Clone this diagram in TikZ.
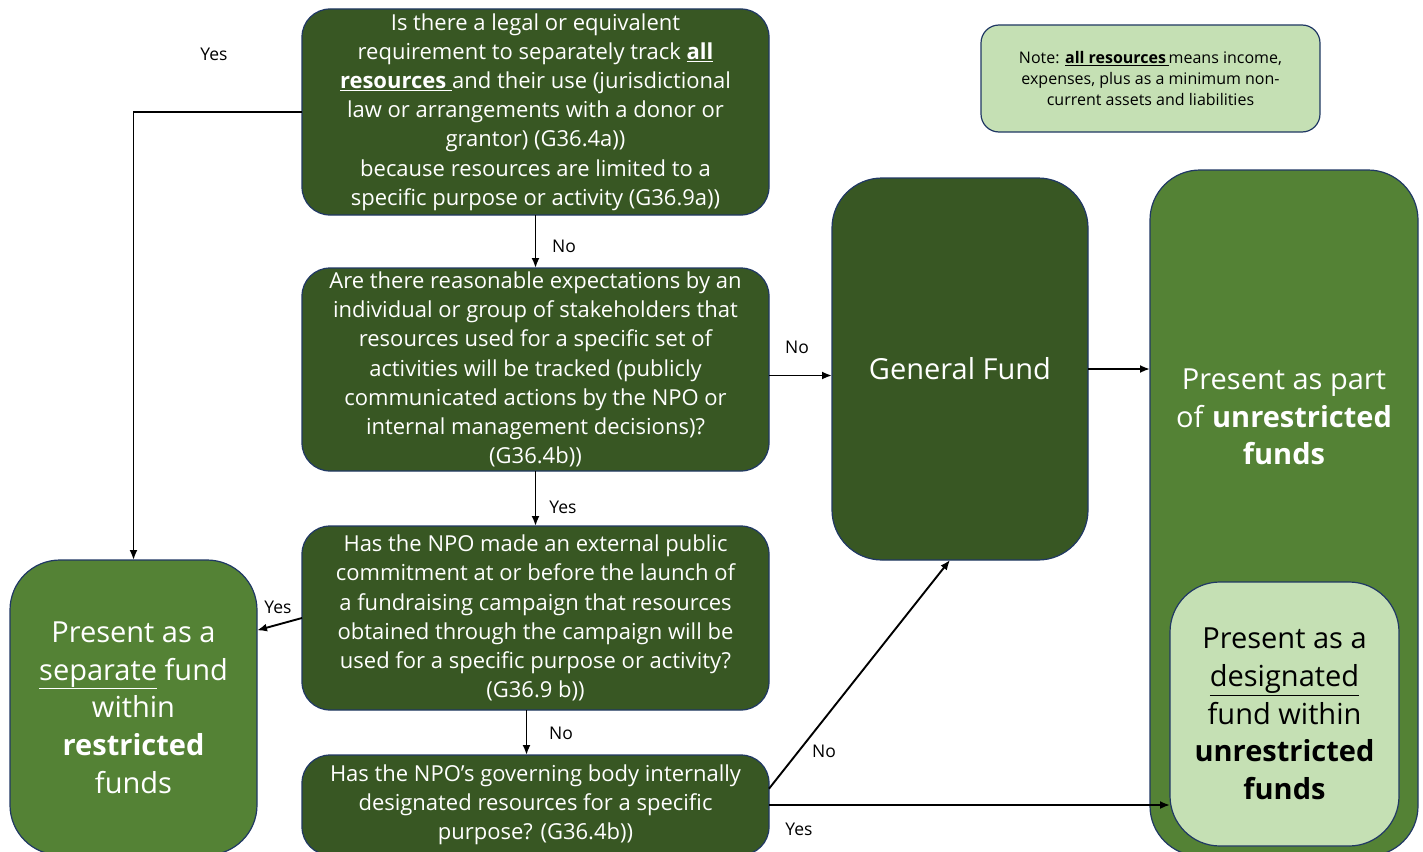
\documentclass[tikz,border=0pt]{standalone}
\usepackage{fontspec}
\setmainfont{Open Sans}
\usetikzlibrary{arrows.meta}

\definecolor{darkgrn}{HTML}{385723}
\definecolor{midgrn}{HTML}{548235}
\definecolor{lightgrn}{HTML}{C5E0B4}
\definecolor{edgeblue}{HTML}{203864}

\begin{document}
\begin{tikzpicture}[x=1pt,y=-1pt,
	box/.style={draw=edgeblue,line width=1.2pt,rounded corners=#1,inner sep=0pt,outer sep=0pt,align=center},
	box/.default=28pt,
	question/.style={box,fill=darkgrn,text=white,minimum width=467pt,font=\fontsize{22}{29.2}\selectfont},
	result/.style={box=50pt,font=\fontsize{29}{37.7}\selectfont},
	arr/.style={-{Latex[length=10pt,width=8pt]},line width=1.9pt},
	lbl/.style={font=\fontsize{17.5}{20}\selectfont}]
				\useasboundingbox (0,0) rectangle (1423,851);
				\clip (0,0) rectangle (1423,851);

				% questions
				\node[question,minimum height=206pt] (q1) at (535.5,112) {Is there a legal or equivalent\\ requirement to separately track \underline{\textbf{all}}\\ \underline{\textbf{resources}\ }and their use (jurisdictional\\ law or arrangements with a donor or\\ grantor) (G36.4a))\\ because resources are limited to a\\ specific purpose or activity (G36.9a))};
				\node[question,minimum height=203pt] (q2) at (535.5,369.5) {Are there reasonable expectations by an\\ individual or group of stakeholders that\\ resources used for a specific set of\\ activities will be tracked (publicly\\ communicated actions by the NPO or\\ internal management decisions)?\\ (G36.4b))};
				\node[question,minimum height=184pt] (q3) at (535.5,618) {Has the NPO made an external public\\ commitment at or before the launch of\\ a fundraising campaign that resources\\ obtained through the campaign will be\\ used for a specific purpose or activity?\\ (G36.9 b))};
				\node[question,minimum height=100pt] (q4) at (535.5,805) {Has the NPO's governing body internally\\ designated resources for a specific\\ purpose? (G36.4b))};

				% outcomes
				\node[result,fill=darkgrn,text=white,minimum width=256pt,minimum height=382pt] (gf) at (960,369) {General Fund};
				\node[result,fill=midgrn,minimum width=268pt,minimum height=686pt] (unres) at (1284,513) {};
				\node[text=white,align=center,font=\fontsize{29}{37.7}\selectfont] (unrestxt) at (1284,417) {Present as part\\ of \textbf{unrestricted}\\ \textbf{funds}};
				\node[result,fill=lightgrn,minimum width=229pt,minimum height=264pt] (desig) at (1284.5,714) {Present as a\\ \underline{designated}\\ fund within\\ \textbf{unrestricted}\\ \textbf{funds}};
				\node[result,fill=midgrn,text=white,minimum width=247pt,minimum height=295pt] (restr) at (133.5,707.5) {Present as a\\ \underline{separate} fund\\ within\\ \textbf{restricted}\\ funds};

				\node[box=18pt,fill=lightgrn,minimum width=339pt,minimum height=107pt,font=\fontsize{16}{21}\selectfont] (note) at (1150.5,78.5) {Note: \underline{\textbf{all resources}\,}means income,\\ expenses, plus as a minimum non-\\ current assets and liabilities};

				% connectors
				\draw[arr] (q1.west) -| (restr.north);
				\draw[arr] (q1.south) -- (q2.north);
				\draw[arr] ([yshift=-6pt]q2.east) -- ([yshift=-6pt]q2.east -| gf.west);
				\draw[arr] (gf.east) -- (gf.east -| unres.west);
				\draw[arr] (q2.south) -- (q3.north);
				\draw[arr] (q3.west) -- (restr.32);
				\draw[arr] ([xshift=-9pt]q3.south) -- ([xshift=-9pt]q4.north);
				\draw[arr] (q4.4) -- (gf.267);
				\draw[arr] (q4.east) -- (q4.east -| desig.west);

				\node[lbl] (yes1) at (214,54) {Yes};
				\node[lbl] (no1) at (564,246) {No};
				\node[lbl] (no2) at (797,347) {No};
				\node[lbl] (yes2) at (563,507) {Yes};
				\node[lbl] (yes3) at (278,607) {Yes};
				\node[lbl] (no3) at (561,733) {No};
				\node[lbl] (no4) at (824,751) {No};
				\node[lbl] (yes4) at (799,829) {Yes};
			\end{tikzpicture}
\end{document}
